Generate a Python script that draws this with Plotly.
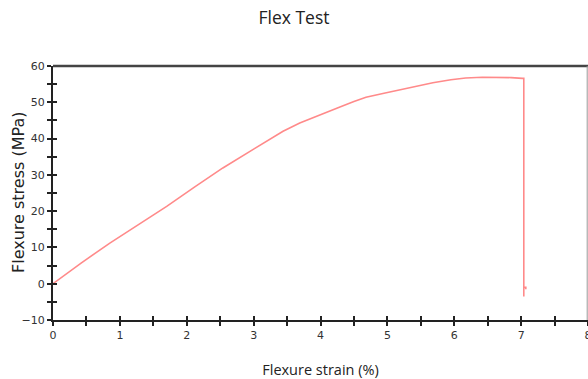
import plotly.graph_objects as go

strain = [0.0, 0.42, 0.85, 1.28, 1.70, 2.12, 2.54, 3.0, 3.25, 3.44, 3.69, 3.99, 4.3, 4.5, 4.68, 4.95, 5.2, 5.45, 5.68, 5.95, 6.17, 6.42, 6.67, 6.85, 7.02, 7.04, 7.04, 7.04, 7.07, 7.07]
stress = [0.0, 5.7, 11.2, 16.3, 21.3, 26.7, 31.9, 37.1, 39.9, 42.0, 44.3, 46.6, 48.8, 50.2, 51.4, 52.5, 53.5, 54.6, 55.4, 56.2, 56.7, 56.9, 56.9, 56.8, 56.6, 56.6, -3.5, -1.0, -1.0, -1.5]

title_text = "Flex Test"
x_title = "Flexure strain (%)"
y_title = "Flexure stress (MPa)"

fig = go.Figure()
fig.add_trace(go.Scatter(x=strain, y=stress, mode="lines",
                         line=dict(color="#ff8a8a", width=1.6), showlegend=False))
fig.add_trace(go.Scatter(x=[0], y=[0], xaxis="x2", yaxis="y2", mode="markers",
                         marker=dict(opacity=0), showlegend=False, hoverinfo="skip"))

tickfont = dict(family="DejaVu Sans", size=11, color="#333333")
tk = dict(ticklen=4, tickwidth=1.5, tickcolor="#222222")

fig.update_layout(
    width=588, height=379,
    margin=dict(l=53, r=0, t=66, b=59),
    paper_bgcolor="white", plot_bgcolor="white",
    title=dict(text=title_text, x=0.5, xanchor="center", y=0.952, yanchor="middle",
               font=dict(family="Open Sans", size=17.5, color="#222222")),
    xaxis=dict(range=[0, 8], dtick=1, showgrid=False, zeroline=False, automargin=False,
               showline=True, linecolor="#222222", linewidth=2,
               ticks="outside", **tk, ticklabeloverflow="allow",
               minor=dict(dtick=0.5, ticks="outside", **tk),
               tickfont=tickfont,
               title=dict(text=x_title, font=dict(family="Open Sans", size=14.5, color="#222222"), standoff=24)),
    yaxis=dict(range=[-10, 60], dtick=10, showgrid=False, zeroline=False, automargin=False,
               showline=True, linecolor="#222222", linewidth=2,
               ticks="outside", **tk,
               minor=dict(dtick=5, ticks="outside", **tk),
               tickfont=tickfont),
    xaxis2=dict(range=[0, 8], dtick=1, overlaying="x", anchor="y", side="bottom", automargin=False,
                showgrid=False, zeroline=False, showticklabels=False,
                ticks="inside", **tk,
                minor=dict(dtick=0.5, ticks="inside", **tk)),
    yaxis2=dict(range=[-10, 60], dtick=10, overlaying="y", anchor="x", side="left", automargin=False,
                showgrid=False, zeroline=False, showticklabels=False,
                ticks="inside", **tk,
                minor=dict(dtick=5, ticks="inside", **tk)),
    annotations=[
        dict(text=y_title, xref="paper", yref="paper", x=-35 / 535, y=0.5,
             xanchor="center", yanchor="middle", textangle=-90, showarrow=False,
             font=dict(family="DejaVu Sans", size=16, color="#222222")),
    ],
    shapes=[
        dict(type="line", xref="paper", yref="paper", x0=0, x1=1, y0=1, y1=1,
             line=dict(color="#444444", width=2.5)),
        dict(type="line", xref="paper", yref="paper", x0=0.9985, x1=0.9985, y0=0, y1=1,
             line=dict(color="#999999", width=1)),
    ],
)

fig.write_html("out.html", config={"displayModeBar": False},
               post_script="document.body.style.margin='0';document.body.style.overflow='hidden';")
